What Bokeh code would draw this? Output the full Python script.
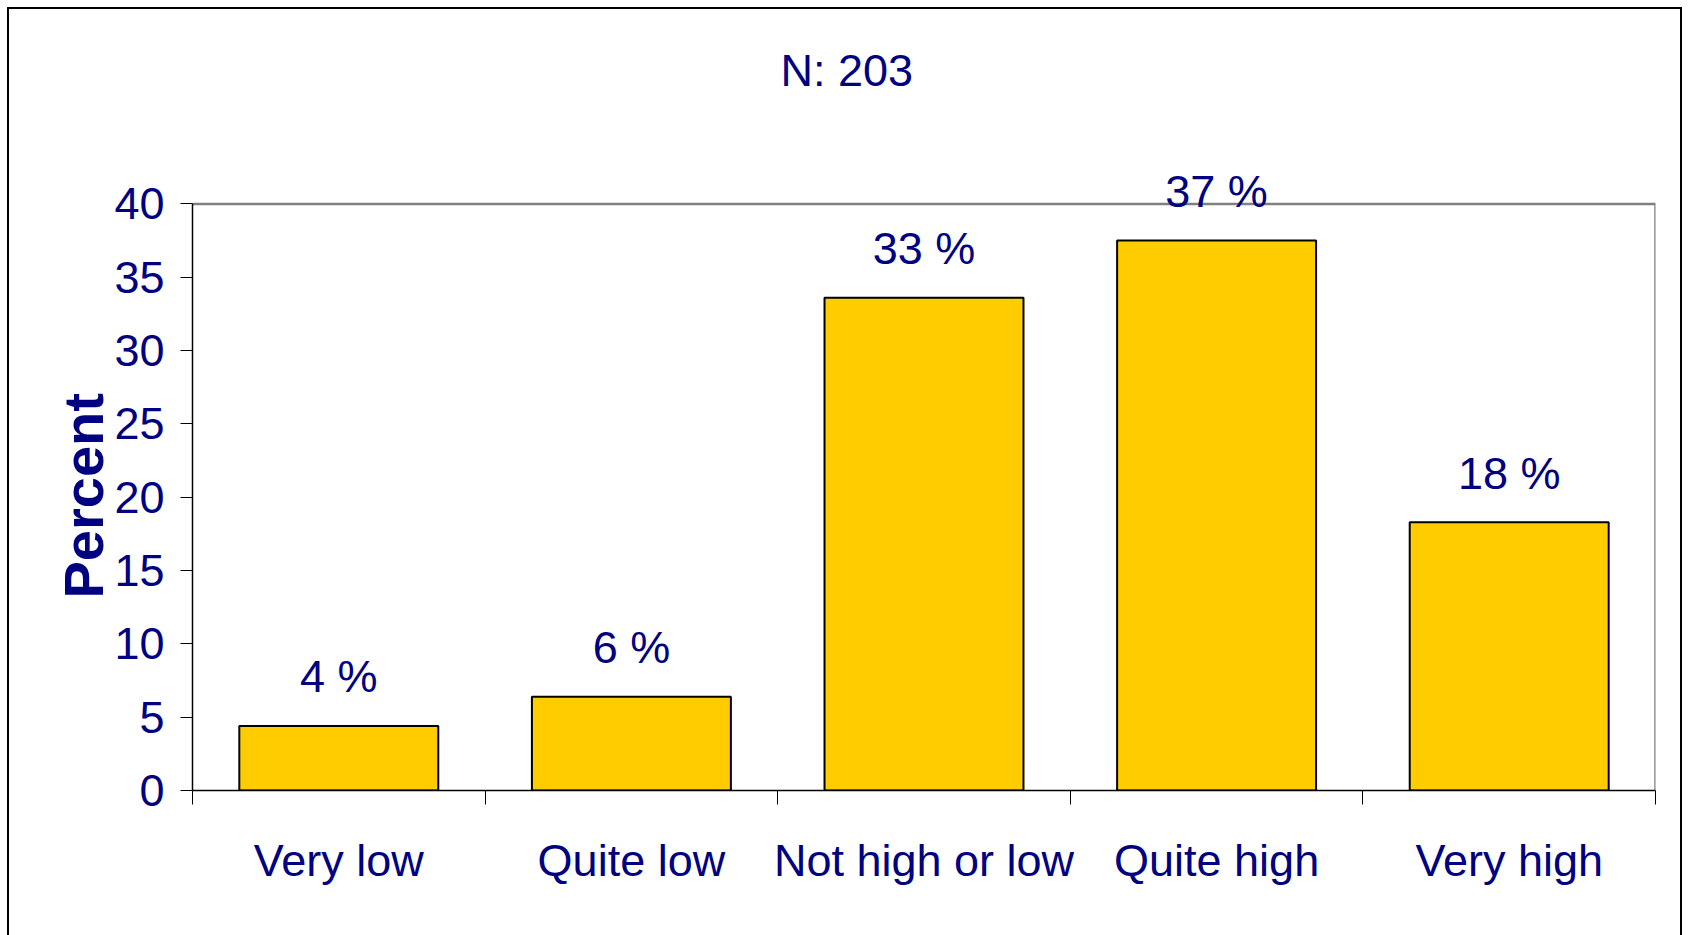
from bokeh.plotting import figure
from bokeh.models import FixedTicker, Range1d, ColumnDataSource, Label, Title
from bokeh.embed import file_html
from bokeh.resources import INLINE

categories = ["Very low", "Quite low", "Not high or low", "Quite high", "Very high"]
percent = [4.4, 6.4, 33.6, 37.5, 18.3]
bar_labels = ["4 %", "6 %", "33 %", "37 %", "18 %"]
y_ticks = [0, 5, 10, 15, 20, 25, 30, 35, 40]
n_text = "N: 203"
y_title = "Percent"

n = len(categories)
y_max = y_ticks[-1]
centers = [i + 0.5 for i in range(n)]
boundaries = list(range(n + 1))

FONT = "'Liberation Sans Narrow', 'Arial Narrow', 'Liberation Sans', sans-serif"
NAVY = "#000080"
GRAY = "#808080"
FS = "45px"

src = ColumnDataSource(dict(x=centers, top=percent, label=bar_labels, cat=categories))

# extra headroom above 40 so that value labels are not clipped; frame lines drawn at 40
p = figure(width=1689, height=935, x_range=Range1d(0, n), y_range=Range1d(0, 44.8),
           output_backend="svg", toolbar_location=None,
           min_border_left=192, min_border_right=34, min_border_top=133, min_border_bottom=145)

p.title = Title(text=n_text, align="left", text_font=FONT, text_font_size=FS,
                text_font_style="normal", text_color=NAVY, offset=588, standoff=76)

p.add_layout(Title(text=y_title, align="left", offset=192, standoff=-6,
                   text_font="'Liberation Sans', Arial, sans-serif", text_font_style="bold",
                   text_font_size="56px", text_color=NAVY), "left")

# plot-area border (top and right), grey
p.line(x=[0, n, n], y=[y_max, y_max, 0], line_color=GRAY, line_width=2.5)

p.vbar(x="x", top="top", bottom=0, width=0.68, source=src,
       fill_color="#FFCC00", line_color="black", line_width=2)

for xc, yv, lab in zip(centers, percent, bar_labels):
    p.add_layout(Label(x=xc, y=yv, text=lab, y_offset=49,
                       text_align="center", text_baseline="alphabetic",
                       text_font=FONT, text_font_size=FS, text_color=NAVY))

p.xgrid.visible = False
p.ygrid.visible = False
p.outline_line_color = None
p.background_fill_color = "white"
p.border_fill_alpha = 0
p.styles = {"box-shadow": ("inset 7px 7px 0 0 white, inset -7px 0 0 0 white, "
                           "inset 9px 9px 0 0 black, inset -9px 0 0 0 black")}

# y axis
p.yaxis.ticker = FixedTicker(ticks=y_ticks)
p.yaxis.bounds = (0, y_max)
p.yaxis.major_tick_out = 12
p.yaxis.major_tick_in = 0
p.yaxis.minor_tick_out = 0
p.yaxis.minor_tick_in = 0
p.yaxis.axis_line_color = "black"
p.yaxis.axis_line_width = 1.5
p.yaxis.major_label_text_font = FONT
p.yaxis.major_label_text_font_size = FS
p.yaxis.major_label_text_color = NAVY
p.yaxis.major_label_standoff = 16

# x axis: ticks at category boundaries, labels at centres
p.xaxis.ticker = FixedTicker(ticks=centers, minor_ticks=boundaries)
p.xaxis.major_label_overrides = {c: cat for c, cat in zip(centers, categories)}
p.xaxis.major_tick_out = 0
p.xaxis.major_tick_in = 0
p.xaxis.minor_tick_out = 14
p.xaxis.minor_tick_in = 0
p.xaxis.minor_tick_line_color = "black"
p.xaxis.axis_line_color = "black"
p.xaxis.axis_line_width = 1.5
p.xaxis.major_label_text_font = FONT
p.xaxis.major_label_text_font_size = FS
p.xaxis.major_label_text_color = NAVY
p.xaxis.major_label_standoff = 30

open("out.html", "w").write(file_html(p, INLINE))
